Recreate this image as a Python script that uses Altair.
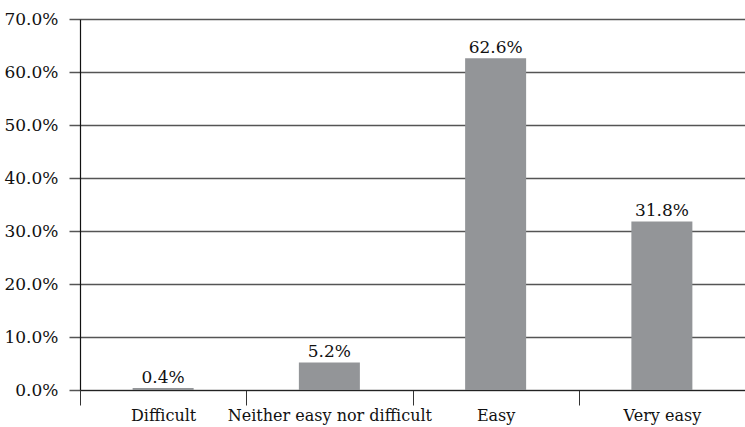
import altair as alt
import pandas as pd

categories = ["Difficult", "Neither easy nor difficult", "Easy", "Very easy"]
shares = [0.4, 5.2, 62.6, 31.8]

df = pd.DataFrame({"category": categories, "share": shares})
df["label"] = [f"{v:.1f}%" for v in shares]

FONT = "DejaVu Serif"
FS = 17

x_enc = alt.X(
    "category:N",
    sort=categories,
    title=None,
    scale=alt.Scale(paddingInner=0, paddingOuter=0),
    axis=alt.Axis(
        labelAngle=0,
        tickBand="extent",
        tickSize=15,
        tickColor="#333333",
        tickWidth=1,
        domainColor="#222222",
        domainWidth=1.2,
        labelPadding=2,
        labelFont=FONT,
        labelFontSize=16,
        labelColor="#111111",
        labelLimit=0,
        labelOverlap=False,
        grid=False,
    ),
)

y_scale = alt.Scale(domain=[0, 70], nice=False)

bars = alt.Chart(df).mark_bar(color="#939598", width=61).encode(
    x=x_enc,
    y=alt.Y(
        "share:Q",
        scale=y_scale,
        title=None,
        axis=alt.Axis(
            values=[0, 10, 20, 30, 40, 50, 60, 70],
            labelExpr="format(datum.value, '.1f') + '%'",
            tickSize=11,
            tickColor="#555555",
            tickWidth=1.5,
            domainColor="#111111",
            domainWidth=1.2,
            grid=True,
            gridColor="#555555",
            gridWidth=1.5,
            labelPadding=11,
            labelFont=FONT,
            labelFontSize=FS,
            labelColor="#111111",
        ),
    ),
)

labels = alt.Chart(df).mark_text(
    baseline="bottom", dy=-1, font=FONT, fontSize=FS, color="#111111"
).encode(
    x=alt.X("category:N", sort=categories),
    y=alt.Y("share:Q", scale=y_scale),
    text="label:N",
)

chart = (
    alt.layer(bars, labels)
    .properties(
        width=665,
        height=371,
        autosize=alt.AutoSizeParams(type="none"),
        padding={"left": 80, "top": 19, "right": 0, "bottom": 37},
    )
    .configure_view(stroke=None)
    .configure(background="white")
)

chart.save("out.html", embed_options={"renderer": "svg", "actions": False})
